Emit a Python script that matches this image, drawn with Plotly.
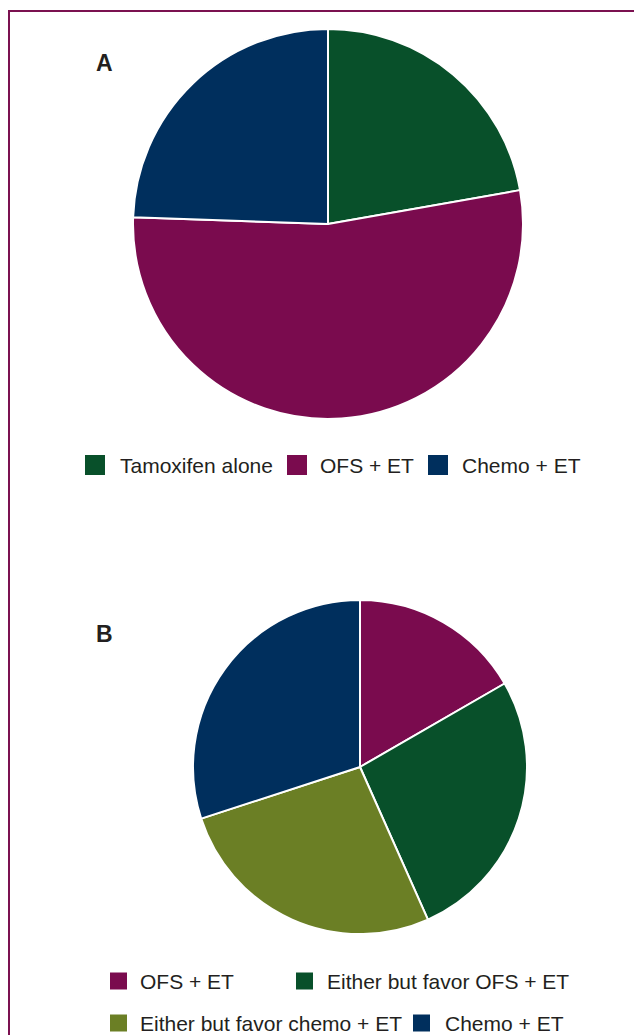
import plotly.graph_objects as go

# page body has an 8px margin; the figure is sized to fill the rest of the 642x1035 window
OFF = 8
W, H = 642 - OFF, 1035 - OFF

# ---- data ----
labels_a = ["Tamoxifen alone", "OFS + ET", "Chemo + ET"]
values_a = [10, 24, 11]
colors_a = ["#08502A", "#7A0B4E", "#002F5D"]

labels_b = ["OFS + ET", "Either but favor OFS + ET", "Either but favor chemo + ET", "Chemo + ET"]
values_b = [5, 8, 8, 9]
colors_b = ["#7A0B4E", "#08502A", "#6B7F25", "#002F5D"]

# ---- layout helpers (window pixel -> paper) ----
def px(x):
    return (x - OFF) / W

def py(y):
    return 1 - (y - OFF) / H

fig = go.Figure()

fig.add_trace(go.Pie(
    labels=labels_a, values=values_a, sort=False, direction="clockwise", rotation=0,
    marker=dict(colors=colors_a, line=dict(color="white", width=2)),
    textinfo="none", hoverinfo="label+value+percent", showlegend=False,
    domain=dict(x=[px(133), px(523)], y=[py(419), py(29)]),
))

fig.add_trace(go.Pie(
    labels=labels_b, values=values_b, sort=False, direction="clockwise", rotation=0,
    marker=dict(colors=colors_b, line=dict(color="white", width=2)),
    textinfo="none", hoverinfo="label+value+percent", showlegend=False,
    domain=dict(x=[px(193), px(527)], y=[py(934), py(600)]),
))

shapes = []
annotations = []

# outer frame
shapes.append(dict(type="rect", xref="paper", yref="paper",
                   x0=px(9), x1=px(700), y0=py(1100), y1=py(11),
                   line=dict(color="#7B1150", width=2), fillcolor="rgba(0,0,0,0)", layer="below"))

# panel letters
for letter, (lx, ly) in zip(["A", "B"], [(94, 63), (94, 634)]):
    annotations.append(dict(text="<b>%s</b>" % letter, x=px(lx), y=py(ly), xref="paper", yref="paper",
                            xanchor="left", yanchor="middle", showarrow=False,
                            font=dict(family="Liberation Sans, Arial, sans-serif", size=23, color="#231F20")))

# legend entries (swatch left x, row center y, swatch size, text x)
legend_pos_a = [(85, 465, 20, 118), (287, 465, 20, 318), (428, 465, 20, 460)]
legend_pos_b = [(110, 981, 17, 138), (296, 981, 17, 325), (110, 1023, 17, 138), (413, 1023, 17, 443)]

for labs, cols, poss in [(labels_a, colors_a, legend_pos_a), (labels_b, colors_b, legend_pos_b)]:
    for lab, col, (sx, sy, s, tx) in zip(labs, cols, poss):
        shapes.append(dict(type="rect", xref="paper", yref="paper",
                           x0=px(sx), x1=px(sx + s), y0=py(sy + s / 2), y1=py(sy - s / 2),
                           line=dict(width=0), fillcolor=col))
        annotations.append(dict(text=lab, x=px(tx), y=py(sy), xref="paper", yref="paper",
                                xanchor="left", yanchor="middle", showarrow=False,
                                font=dict(family="Liberation Sans, Arial, sans-serif", size=21, color="#231F20")))

fig.update_layout(
    width=W, height=H, autosize=False,
    margin=dict(l=0, r=0, t=0, b=0),
    paper_bgcolor="white", plot_bgcolor="white",
    shapes=shapes, annotations=annotations,
)

fig.write_html("out.html")
